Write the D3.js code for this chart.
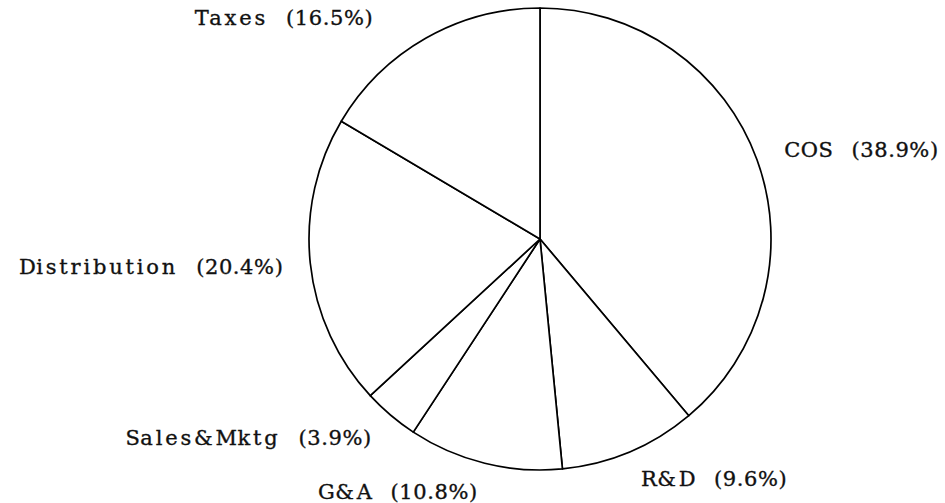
<!DOCTYPE html>
<html>
<head>
<meta charset="utf-8">
<script src="https://cdn.jsdelivr.net/npm/d3@7/dist/d3.min.js"></script>
<style>
  html, body { margin: 0; padding: 0; background: #fff; }
  svg { display: block; }
  text { font-family: "DejaVu Serif", "Liberation Serif", serif; font-size: 21px; fill: #111; stroke: #111; stroke-width: 0.35px; }
  .uc { letter-spacing: 0.5px; }
  .lc { letter-spacing: 2.8px; }
  .pc { letter-spacing: 0.6px; }
</style>
</head>
<body>
<svg id="chart" width="945" height="503"></svg>
<script>
// Expense breakdown, clockwise from 12 o'clock
const categories = ["COS", "R&D", "G&A", "Sales&Mktg", "Distribution", "Taxes"];
const shares = [38.9, 9.6, 10.8, 3.9, 20.4, 16.5];
const shareLabels = ["38.9%", "9.6%", "10.8%", "3.9%", "20.4%", "16.5%"];

const width = 945, height = 503;
const cx = 540, cy = 239, radius = 231, labelRadius = 260;

// small per-label tweaks so labels clear the rim
const labelNudge = [[0, 0], [0, 0], [0, 0], [0, 0], [2, 0], [-38, 4]];

const svg = d3.select("#chart");
const g = svg.append("g").attr("transform", `translate(${cx},${cy})`);

const pie = d3.pie().sort(null).value(d => d.v);
const data = categories.map((c, i) => ({ name: c, v: shares[i], label: shareLabels[i] }));
const arcs = pie(data);

const arc = d3.arc().innerRadius(0).outerRadius(radius);

g.selectAll("path.slice")
  .data(arcs)
  .join("path")
  .attr("class", "slice")
  .attr("d", arc)
  .attr("fill", "#fff")
  .attr("stroke", "#000")
  .attr("stroke-width", 1.7)
  .attr("stroke-linejoin", "round");

const mid = d => (d.startAngle + d.endAngle) / 2;

const labels = g.selectAll("text.lbl")
  .data(arcs)
  .join("text")
  .attr("class", "lbl")
  .attr("x", (d, i) => labelRadius * Math.sin(mid(d)) + labelNudge[i][0])
  .attr("y", (d, i) => -labelRadius * Math.cos(mid(d)) + labelNudge[i][1])
  .attr("dy", "0.36em")
  .attr("text-anchor", d => Math.sin(mid(d)) >= 0 ? "start" : "end");

// the lettering is near-monospaced: lowercase glyphs get extra tracking
labels.selectAll("tspan.ch")
  .data(d => Array.from(d.data.name))
  .join("tspan")
  .attr("class", c => "ch " + (c >= "A" && c <= "Z" ? "uc" : "lc"))
  .text(c => c);
labels.append("tspan").attr("class", "pc").attr("dx", 18).text(d => `(${d.data.label})`);
</script>
</body>
</html>
